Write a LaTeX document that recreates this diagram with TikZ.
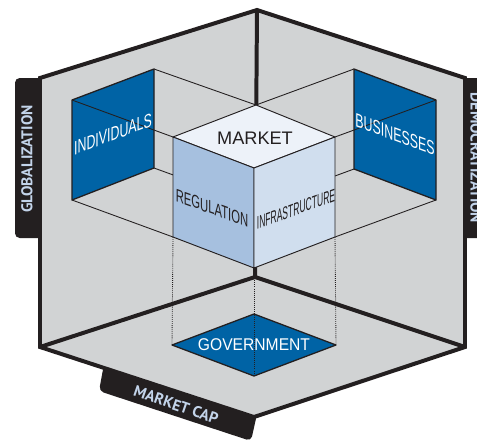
\documentclass[tikz,border=0pt]{standalone}
\usepackage{fontspec}
\setmainfont{Liberation Sans}
\newfontfamily\tabfont{PT Sans}
\usepackage{xcolor}
\definecolor{cubeDark}{HTML}{231F20}
\definecolor{cubeWall}{HTML}{D1D3D4}
\definecolor{cubeBlue}{HTML}{0063A5}
\definecolor{cubeTop}{HTML}{EDF2F9}
\definecolor{cubeLeft}{HTML}{A6C0DF}
\definecolor{cubeRight}{HTML}{D0DEEE}
\definecolor{cubeTabText}{HTML}{C3D4EA}
\usepackage{tikz}
\usetikzlibrary{calc}
\tikzset{
    wall/.style={
        fill=cubeWall
    },
    rim/.style={
        draw=cubeDark,
        line width=3.4pt
    },
    guide/.style={
        draw=cubeDark,
        line width=0.75pt
    },
    plumb/.style={
        draw=cubeDark,
        line width=0.75pt,
        densely dotted
    },
    panel/.style={
        fill=cubeBlue,
        draw=cubeDark,
        line width=1.1pt,
        line join=round
    },
    face/.style={
        draw=cubeDark,
        line width=0.8pt,
        line join=round
    },
    tab/.style={
        fill=cubeDark,
        rounded corners=4pt
    },
    tablabel/.style={
        font=\tabfont\bfseries\fontsize{13.3}{14}\selectfont,
        text=cubeTabText,
        inner sep=0pt
    },
    facelabel/.style={
        font=\fontsize{15.5}{15.5}\selectfont,
        text=cubeDark,
        inner sep=0pt
    },
    panellabel/.style={
        font=\fontsize{16.5}{16.5}\selectfont,
        text=white,
        inner sep=0pt
    }
}

\begin{document}
\begin{tikzpicture}[x=0.03cm, y=-0.03cm]
    \useasboundingbox (0,0) rectangle (477,443);

    % corners of the room
    \coordinate (top) at (257,10);
    \coordinate (ul) at (40,78);
    \coordinate (ll) at (40,347);
    \coordinate (bot) at (254,417);
    \coordinate (lr) at (465,347);
    \coordinate (ur) at (465,78);
    \coordinate (corner) at (255,277);

    % the floating cube
    \coordinate (cube-bk) at (256,105);
    \coordinate (cube-tl) at (173,137);
    \coordinate (cube-tr) at (335,137);
    \coordinate (cube-tf) at (254,168);
    \coordinate (cube-bl) at (173,237);
    \coordinate (cube-bf) at (254,268);
    \coordinate (cube-br) at (335,237);
    \coordinate (cube-hid) at (256,205);

    % its shadows on the walls and the floor
    \coordinate (ind-tl) at (72,100);
    \coordinate (ind-tr) at (154,69);
    \coordinate (ind-br) at (154,168);
    \coordinate (ind-bl) at (72,200);
    \coordinate (bus-tl) at (354,69);
    \coordinate (bus-tr) at (436,100);
    \coordinate (bus-br) at (436,200);
    \coordinate (bus-bl) at (354,169);
    \coordinate (gov-t) at (254,314);
    \coordinate (gov-l) at (172,345);
    \coordinate (gov-b) at (254,376);
    \coordinate (gov-r) at (336,345);

    % tabs
    \fill[tab] (44,78) -- (15,78) -- (15,238) -- (44,238) -- cycle;
    \fill[tab] (461,78) -- (492,78) -- (492,238) -- (461,238) -- cycle;
    \fill[tab] (104,364) -- (99,391) -- (251,441) -- (257,414) -- cycle;

    % walls and floor
    \fill[wall] (top) -- (ul) -- (ll) -- (bot) -- (lr) -- (ur) -- cycle;

    \draw[guide] (ind-tr) -- (cube-bk);
    \draw[guide] (ind-br) -- (cube-hid);
    \draw[guide] (ind-bl) -- (cube-bl);
    \draw[guide] (bus-tl) -- (cube-bk);
    \draw[guide] (bus-bl) -- (cube-hid);
    \draw[guide] (bus-br) -- (cube-br);
    \draw[plumb] (cube-bl) -- (gov-l);
    \draw[plumb] (cube-br) -- (gov-r);

    \draw[panel] (ind-tl) -- (ind-tr) -- (ind-br) -- (ind-bl) -- cycle;
    \draw[panel] (bus-tl) -- (bus-tr) -- (bus-br) -- (bus-bl) -- cycle;
    \draw[panel] (gov-t) -- (gov-r) -- (gov-b) -- (gov-l) -- cycle;
    \draw[guide] (ind-tl) -- (cube-tl);
    \draw[guide] (bus-tr) -- (cube-tr);
    \draw[plumb] (cube-bf) -- (gov-b);

    % room edges
    \draw[rim] (top) -- (ul) -- (ll) -- (bot) -- (lr) -- (ur) -- cycle;
    \draw[rim] (top) -- (corner) (ll) -- (corner) -- (lr);

    % cube faces
    \draw[face, fill=cubeTop] (cube-bk) -- (cube-tr) -- (cube-tf) -- (cube-tl) -- cycle;
    \draw[face, fill=cubeLeft] (cube-tl) -- (cube-tf) -- (cube-bf) -- (cube-bl) -- cycle;
    \draw[face, fill=cubeRight] (cube-tf) -- (cube-tr) -- (cube-br) -- (cube-bf) -- cycle;

    \node[facelabel] (market) at (255,138) {MARKET};
    \node[facelabel, yslant=-0.36, xscale=0.62] (regulation) at (212,208) {REGULATION};
    \node[facelabel, yslant=0.36, xscale=0.47] (infra) at (296,209) {INFRASTRUCTURE};
    \node[panellabel, yslant=0.37, xscale=0.64] (individuals) at ($(ind-tl)!0.5!(ind-br)$) {INDIVIDUALS};
    \node[panellabel, yslant=-0.37, xscale=0.64] (businesses) at ($(bus-tl)!0.5!(bus-br)$) {BUSINESSES};
    \node[panellabel, font=\fontsize{14.5}{14.5}\selectfont, xscale=0.92] (government) at ($(gov-l)!0.5!(gov-r)$) {GOVERNMENT};

    \node[tablabel, rotate=90] (globalization) at (27,159) {GLOBALIZATION};
    \node[tablabel, rotate=-90] (democratization) at (476,158) {DEMOCRATIZATION};
    \node[tablabel, rotate=-19] (marketcap) at (176,405) {MARKET CAP};
\end{tikzpicture}
\end{document}
